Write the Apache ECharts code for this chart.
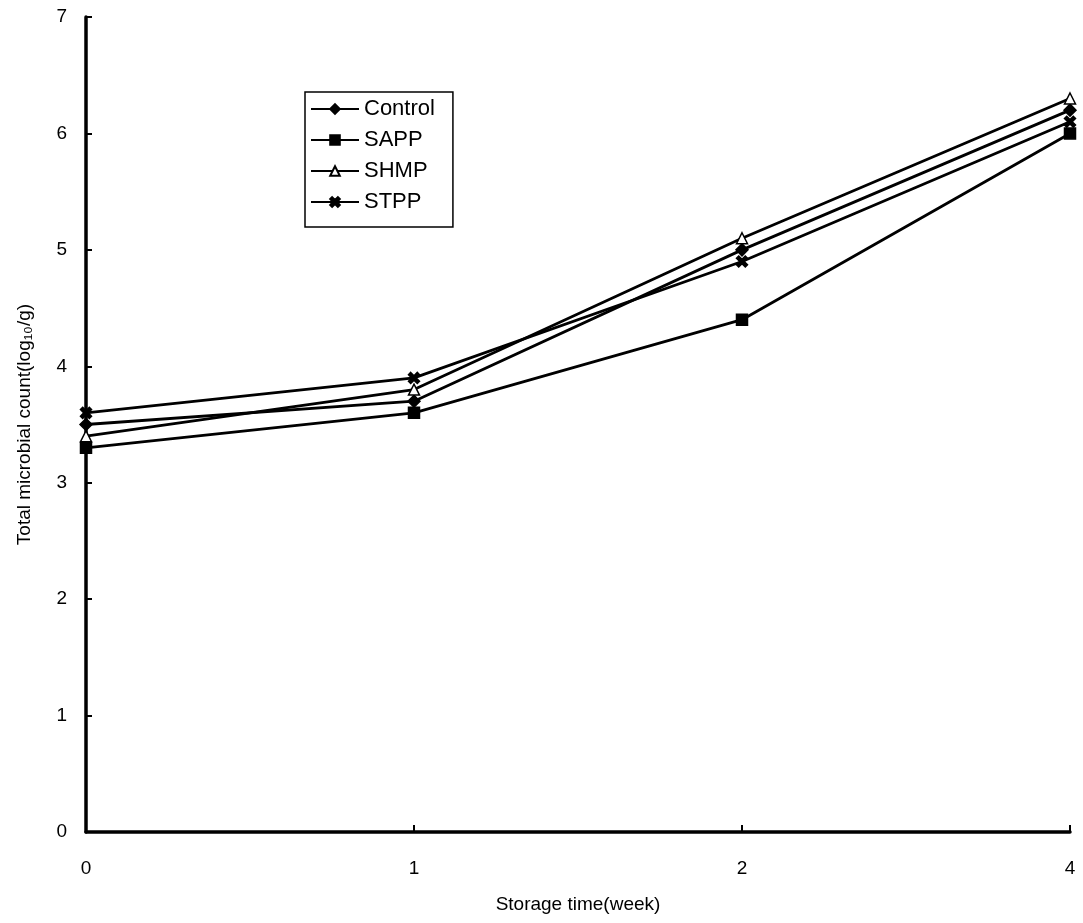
<!DOCTYPE html>
<html>
<head>
<meta charset="utf-8">
<script src="https://cdn.jsdelivr.net/npm/echarts@6/dist/echarts.min.js"></script>
<style>
  html, body { margin: 0; padding: 0; background: #fff; }
  #chart { width: 1083px; height: 923px; }
</style>
</head>
<body>
<div id="chart"></div>
<script>
// storage weeks
var weeks = ['0', '1', '2', '4'];

// log10 CFU/g per treatment
var control = [3.5, 3.7, 5.0, 6.2];
var sapp = [3.3, 3.6, 4.4, 6.0];
var shmp = [3.4, 3.8, 5.1, 6.3];
var stpp = [3.6, 3.9, 4.9, 6.1];

var crossPath = 'path://M2,0L5,3L8,0L10,2L7,5L10,8L8,10L5,7L2,10L0,8L3,5L0,2Z';

var chart = echarts.init(document.getElementById('chart'));

function makeSeries(name, data, symbol, size, fill) {
  return {
    name: name,
    type: 'line',
    data: data,
    symbol: symbol,
    symbolSize: size,
    showAllSymbol: true,
    lineStyle: { color: '#000', width: 2.8 },
    itemStyle: { color: fill, borderColor: '#000', borderWidth: 1.5 },
    emphasis: { disabled: true }
  };
}

var option = {
  backgroundColor: '#fff',
  animation: false,
  textStyle: { fontFamily: 'Liberation Sans', color: '#000' },
  grid: { left: 86, right: 13, top: 17, bottom: 91 },
  legend: {
    orient: 'vertical',
    left: 305,
    top: 92,
    itemWidth: 48,
    itemHeight: 12,
    itemGap: 9,
    padding: [6, 18, 14, 5],
    borderColor: '#000',
    borderWidth: 1.5,
    textStyle: { fontSize: 22, color: '#000', fontFamily: 'Liberation Sans' },
    data: ['Control', 'SAPP', 'SHMP', 'STPP']
  },
  xAxis: {
    type: 'category',
    data: weeks,
    boundaryGap: false,
    name: 'Storage time(week)',
    nameLocation: 'middle',
    nameGap: 63,
    nameTextStyle: { fontSize: 19, color: '#000' },
    axisLine: { lineStyle: { color: '#000', width: 3.5 } },
    axisTick: { inside: true, length: 7, lineStyle: { color: '#000', width: 2 } },
    axisLabel: { fontSize: 19, color: '#000', margin: 27 },
    splitLine: { show: false }
  },
  yAxis: {
    type: 'value',
    min: 0,
    max: 7,
    interval: 1,
    name: 'Total microbial count(log\u2081\u2080/g)',
    nameLocation: 'middle',
    nameGap: 52,
    nameTextStyle: { fontSize: 19, color: '#000' },
    axisLine: { show: true, lineStyle: { color: '#000', width: 3.5 } },
    axisTick: { show: true, inside: true, length: 6, lineStyle: { color: '#000', width: 2 } },
    axisLabel: { fontSize: 19, color: '#000', margin: 19 },
    splitLine: { show: false }
  },
  series: [
    makeSeries('Control', control, 'diamond', 12, '#000'),
    makeSeries('SAPP', sapp, 'rect', 11, '#000'),
    makeSeries('SHMP', shmp, 'triangle', 11, '#fff'),
    makeSeries('STPP', stpp, crossPath, 11, '#000')
  ]
};

chart.setOption(option);
</script>
</body>
</html>
